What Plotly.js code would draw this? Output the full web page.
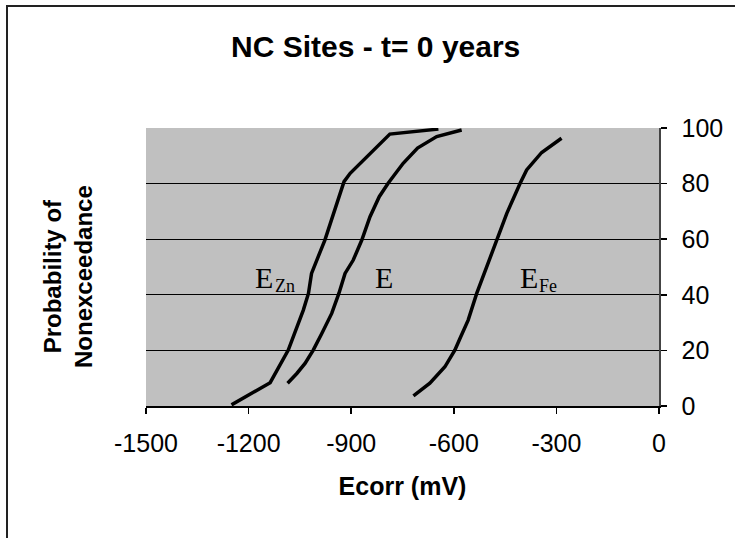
<!DOCTYPE html>
<html>
<head>
<meta charset="utf-8">
<script src="https://cdn.plot.ly/plotly-3.0.1.min.js"></script>
<style>
  html, body { margin: 0; padding: 0; background: #fff; }
  #wrap { position: relative; width: 735px; height: 538px; }
  #chart { width: 735px; height: 538px; }
  #frame { position: absolute; left: 6px; top: 5px; width: 729px; height: 533px;
           border-top: 2px solid #222; border-left: 2px solid #222; box-sizing: border-box; pointer-events: none; }
</style>
</head>
<body>
<div id="wrap"><div id="chart"></div><div id="frame"></div></div>
<script>
// E_Zn curve
const eznX = [-1250, -1137, -1084, -1059, -1040, -1025, -1016, -977, -947, -921, -903, -787, -645];
const eznY = [0.4, 8.4, 20.1, 28.5, 34.5, 40.5, 47.7, 59.7, 70.5, 80.7, 83.7, 97.8, 99.6];
// E curve
const eX = [-1086, -1059, -1035, -1011, -986, -957, -936, -918, -894, -869, -845, -818, -792, -748, -706, -650, -577];
const eY = [8.2, 11.7, 15.3, 20.1, 26.1, 33.3, 40.5, 47.7, 52.5, 59.7, 68.1, 75.3, 80.1, 87.3, 92.8, 96.9, 99.3];
// E_Fe curve
const efeX = [-718, -670, -626, -597, -582, -558, -533, -504, -475, -445, -406, -387, -343, -285];
const efeY = [3.6, 8.2, 14.1, 20.1, 24.3, 30.9, 40.5, 50.1, 59.7, 69.3, 80.1, 84.9, 91.2, 96.3];

const xTicks = [-1500, -1200, -900, -600, -300, 0];
const yTicks = [0, 20, 40, 60, 80, 100];

// curve labels: main letter and subscript
const labelText = ['E', 'E', 'E'];
const labelX = [-1187, -836, -412];
const labelY = [46.4, 46.4, 46.4];
const subText = ['Zn', '', 'Fe'];
const subX = [-1129, null, -357];
const subY = [43, null, 43];

const line = {color: '#000', width: 3.5};
const traces = [
  {x: eznX, y: eznY, mode: 'lines', line: line, name: 'EZn'},
  {x: eX, y: eY, mode: 'lines', line: line, name: 'E'},
  {x: efeX, y: efeY, mode: 'lines', line: line, name: 'EFe'}
];

const serif = '"Liberation Serif", "Times New Roman", serif';
const sans = '"Liberation Sans", Arial, sans-serif';
const annotations = [];
labelText.forEach((t, i) => {
  annotations.push({
    x: labelX[i], y: labelY[i], xref: 'x', yref: 'y', text: t, showarrow: false,
    xanchor: 'left', yanchor: 'middle',
    font: {family: serif, size: 30, color: '#000'}
  });
  if (subText[i]) {
    annotations.push({
      x: subX[i], y: subY[i], xref: 'x', yref: 'y', text: subText[i], showarrow: false,
      xanchor: 'left', yanchor: 'middle',
      font: {family: serif, size: 18, color: '#000'}
    });
  }
});
annotations.push({
  text: 'NC Sites - t= 0 years', xref: 'paper', yref: 'paper',
  x: (375 - 146) / 513, y: 1 + (128 - 46) / 278, xanchor: 'center', yanchor: 'middle', showarrow: false,
  font: {family: sans, size: 30, color: '#000', weight: 'bold'}
});
annotations.push({
  text: 'Probability of<br>Nonexceedance', xref: 'paper', yref: 'paper',
  x: (68 - 146) / 513, y: (406 - 277) / 278, xanchor: 'center', yanchor: 'middle', showarrow: false,
  textangle: -90,
  font: {family: sans, size: 24, color: '#000', weight: 'bold'}
});

const layout = {
  width: 735, height: 538,
  margin: {l: 146, r: 76, t: 128, b: 132},
  paper_bgcolor: '#fff', plot_bgcolor: '#c0c0c0',
  showlegend: false,
  font: {family: sans, size: 25, color: '#000'},
  xaxis: {
    range: [-1500, 0], tickvals: xTicks, ticktext: xTicks.map(String),
    showgrid: false, zeroline: false, showline: true, linecolor: '#000', linewidth: 1.5,
    ticks: 'outside', ticklen: 6, tickcolor: '#000', tickwidth: 1.5, ticklabelstandoff: 8,
    title: {text: 'Ecorr (mV)', font: {family: sans, size: 25, weight: 'bold'}, standoff: 22}
  },
  yaxis: {
    range: [0, 100], side: 'right', tickvals: yTicks, ticktext: yTicks.map(String),
    showgrid: true, gridcolor: '#000', gridwidth: 1, zeroline: false,
    showline: true, linecolor: '#444', linewidth: 1.5,
    ticks: 'outside', ticklen: 6, tickcolor: '#000', tickwidth: 1.5, ticklabelstandoff: 10
  },
  annotations: annotations
};

Plotly.newPlot('chart', traces, layout, {displayModeBar: false, staticPlot: true});
</script>
</body>
</html>
